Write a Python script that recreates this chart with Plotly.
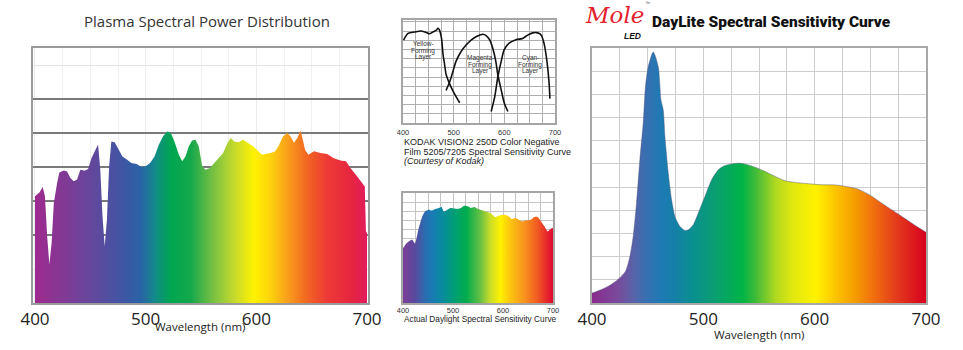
import plotly.graph_objects as go

W, H = 963, 350
def fx(p): return p / W
def fy(p): return 1 - p / H

# ---------------- data ----------------
tick_vals = [400, 500, 600, 700]
tick_text = ["400", "500", "600", "700"]

plasma_nm = [400, 404, 407, 409, 411, 413, 415, 417, 420, 422, 426, 429, 432, 435, 438, 441, 445, 448,
             451, 455, 457, 459, 461, 463, 465, 467, 469, 472, 475, 479, 483, 487, 492, 496, 500, 504,
             508, 512, 516, 520, 523, 526, 530, 533, 536, 539, 542, 545, 548, 551, 554, 558, 562, 566,
             570, 574, 577, 580, 584, 588, 592, 597, 601, 605, 609, 613, 617, 620, 624, 628, 631, 634,
             637, 640, 642, 644, 647, 652, 658, 664, 670, 676, 681, 685, 691, 696, 698, 699, 700]
plasma_val = [3.14, 3.25, 3.41, 3.14, 1.96, 1.13, 1.76, 2.94, 3.53, 3.84, 3.90, 3.87, 3.68, 3.58, 3.63,
              3.92, 3.89, 3.94, 4.26, 4.56, 4.66, 3.92, 2.55, 1.67, 2.45, 4.02, 4.75, 4.73, 4.56, 4.31,
              4.22, 4.12, 4.09, 4.00, 4.02, 4.12, 4.31, 4.66, 4.92, 5.05, 4.98, 4.75, 4.36, 4.17, 4.31,
              4.61, 4.78, 4.80, 4.61, 4.04, 3.92, 3.97, 4.12, 4.26, 4.41, 4.71, 4.85, 4.75, 4.73, 4.80,
              4.71, 4.61, 4.49, 4.36, 4.39, 4.41, 4.46, 4.61, 4.90, 5.00, 4.90, 4.71, 4.85, 5.07, 4.80,
              4.51, 4.36, 4.46, 4.41, 4.38, 4.26, 4.19, 4.17, 3.97, 3.73, 3.53, 3.43, 2.11, 2.06]

yellow_nm = [401, 410, 423, 436, 446, 452, 459, 466, 469, 472, 476, 479, 482, 485, 492, 498, 505, 512]
yellow_val = [9.0, 9.75, 9.9, 10.0, 9.85, 9.7, 9.9, 10.1, 10.3, 10.1, 9.2, 7.45, 6.4, 5.3, 4.25, 3.55, 2.85, 2.2]

magenta_nm = [485, 492, 498, 505, 515, 525, 535, 545, 551, 558, 564, 571, 577, 583, 587, 594, 600, 607]
magenta_val = [3.55, 4.45, 5.5, 6.75, 7.8, 8.5, 9.05, 9.4, 9.55, 9.65, 9.5, 9.05, 8.15, 6.75, 5.3, 3.55, 2.15, 1.25]

cyan_nm = [574, 581, 587, 594, 600, 610, 623, 636, 646, 656, 666, 673, 679, 684, 688, 690]
cyan_val = [1.25, 2.85, 4.95, 6.75, 8.0, 8.7, 9.05, 9.2, 9.55, 9.8, 9.8, 9.55, 8.5, 6.75, 4.6, 2.65]

daylight_nm = [400, 406.8, 413.6, 418.4, 423.9, 430.7, 437.5, 444.3, 451, 458, 464.8, 471.6, 477, 481.8,
               488.6, 495.4, 502.2, 509, 515.9, 522.7, 529.5, 536.3, 543, 550, 560, 570.4, 577, 584, 591,
               597.7, 604.5, 611.3, 618, 625, 631.8, 638.6, 645.4, 655.6, 662.4, 669.3, 676, 683, 689.7,
               695, 700]
daylight_val = [5.97, 6.5, 6.8, 6.9, 6.5, 8.0, 9.27, 10.0, 10.18, 10.1, 10.26, 10.37, 10.48, 10.0, 10.18,
                10.37, 10.3, 10.26, 10.37, 10.62, 10.55, 10.37, 10.48, 10.26, 10.1, 9.9, 9.74, 9.38, 9.52,
                9.63, 9.63, 9.45, 9.16, 9.27, 9.08, 8.9, 9.0, 9.08, 9.38, 9.38, 8.9, 8.35, 7.8, 8.06, 8.17]

mole_nm = [400, 408, 417, 423, 430, 434, 437, 440, 443, 446, 448, 450.5, 455, 459.5, 462, 464, 465.5,
           468.5, 471.5, 474.5, 479, 483.5, 486.5, 491, 495.5, 501.5, 507.5, 513.5, 519.5, 525.5, 531.5,
           537.5, 546.5, 555.5, 564.5, 573.5, 582.5, 595, 607, 619, 631, 640, 649, 658, 667, 676, 685,
           694, 700]
mole_val = [0.43, 0.57, 0.79, 1.0, 1.36, 2.0, 2.87, 4.31, 6.18, 7.76, 9.32, 10.19, 10.83, 10.19, 8.75,
            8.33, 7.18, 5.6, 4.45, 3.73, 3.3, 3.13, 3.16, 3.38, 3.88, 4.6, 5.32, 5.75, 5.93, 6.0, 6.03,
            5.99, 5.86, 5.67, 5.46, 5.27, 5.2, 5.14, 5.1, 5.09, 5.0, 4.89, 4.67, 4.38, 4.09, 3.81, 3.52,
            3.23, 3.05]

# ---------------- colour scales (style) ----------------
CS_PLASMA = [[0.0, "#9e2a8e"], [0.15, "#6b449a"], [0.27, "#3d56a4"], [0.32, "#2a64a6"],
             [0.36, "#128a8a"], [0.41, "#00a651"], [0.47, "#16a84b"], [0.53, "#6fbe44"],
             [0.60, "#c5d92d"], [0.66, "#fff200"], [0.71, "#fdd20e"], [0.76, "#f9a01b"],
             [0.82, "#f26522"], [0.88, "#ed3a36"], [0.95, "#e6263f"], [1.0, "#e21b5c"]]
CS_DAY = [[0.0, "#7b3f98"], [0.08, "#5a4a9e"], [0.147, "#2b6cb0"], [0.193, "#1a7bb3"],
          [0.26, "#0a8aa0"], [0.35, "#00a070"], [0.42, "#00ab4e"], [0.51, "#5fbf45"],
          [0.58, "#c8dc2a"], [0.65, "#fff200"], [0.713, "#fbc60f"], [0.807, "#f7941d"],
          [0.897, "#f15a22"], [0.967, "#e5202e"], [1.0, "#dc0a2c"]]
CS_MOLE = [[0.0, "#8a2a8c"], [0.077, "#7a4a9c"], [0.123, "#5a62a8"], [0.157, "#3a6eb0"],
           [0.207, "#1e7ab4"], [0.247, "#157fa8"], [0.30, "#0a8f90"], [0.37, "#0a9f70"],
           [0.45, "#00b346"], [0.49, "#40bb38"], [0.55, "#b0d820"], [0.60, "#e0e810"],
           [0.67, "#fff200"], [0.73, "#fcc400"], [0.79, "#f59a00"], [0.85, "#ef6a10"],
           [0.91, "#e33c1c"], [1.0, "#d8001e"]]

fig = go.Figure()

fig.add_trace(go.Scatter(x=plasma_nm, y=plasma_val, xaxis="x", yaxis="y", mode="lines",
                         line=dict(width=0), fill="tozeroy",
                         fillgradient=dict(type="horizontal", colorscale=CS_PLASMA),
                         hoverinfo="skip", showlegend=False))
for nm, val in [(yellow_nm, yellow_val), (magenta_nm, magenta_val), (cyan_nm, cyan_val)]:
    fig.add_trace(go.Scatter(x=nm, y=val, xaxis="x2", yaxis="y2", mode="lines",
                             line=dict(color="#111", width=1.6, shape="spline", smoothing=0.8),
                             hoverinfo="skip", showlegend=False))
fig.add_trace(go.Scatter(x=daylight_nm, y=daylight_val, xaxis="x3", yaxis="y3", mode="lines",
                         line=dict(width=0, shape="spline", smoothing=0.6), fill="tozeroy",
                         fillgradient=dict(type="horizontal", colorscale=CS_DAY),
                         hoverinfo="skip", showlegend=False))
fig.add_trace(go.Scatter(x=mole_nm, y=mole_val, xaxis="x4", yaxis="y4", mode="lines",
                         line=dict(width=0.8, color="rgba(70,80,120,0.55)", shape="spline", smoothing=0.7),
                         fill="tozeroy",
                         fillgradient=dict(type="horizontal", colorscale=CS_MOLE),
                         hoverinfo="skip", showlegend=False))

big_tick = dict(family="Open Sans", size=17, color="#222")
small_tick = dict(family="Liberation Sans", size=7.5, color="#333")

def xax(dom, rng, gridc, minorc, linec, linew, font, standoff):
    return dict(domain=dom, range=rng, tickmode="array", tickvals=tick_vals, ticktext=tick_text,
                ticks="", showgrid=True, gridcolor=gridc, gridwidth=1, automargin=False,
                minor=dict(tickmode="linear", tick0=400, dtick=25, showgrid=True, gridcolor=minorc, gridwidth=1),
                showline=True, mirror=True, linecolor=linec, linewidth=linew, zeroline=False,
                tickfont=font, ticklabelstandoff=standoff, fixedrange=True)

def yax(dom, rng, anchor, gridc, linec, linew, **kw):
    d = dict(domain=dom, range=rng, anchor=anchor, showticklabels=False, ticks="", showgrid=True,
             gridcolor=gridc, showline=True, mirror=True, linecolor=linec, linewidth=linew,
             zeroline=False, fixedrange=True, automargin=False)
    d.update(kw)
    return d

layout = dict(
    width=W, height=H, margin=dict(l=0, r=0, t=0, b=0, autoexpand=False),
    paper_bgcolor="white", plot_bgcolor="white", showlegend=False,
    xaxis=xax([fx(33), fx(368)], [398.2, 700.9], "#ececec", "#f0f0f0", "#9a9a9a", 1.5, big_tick, 0),
    yaxis=yax([fy(303), fy(48)], [0, 7.5], "x", "#7a7a7a", "#9a9a9a", 1.5,
              tickmode="array", tickvals=[2, 3, 4, 5, 6], gridwidth=1.5,
              minor=dict(tickmode="array", tickvals=[1, 7], showgrid=True, gridcolor="#e4e4e4", gridwidth=1)),
    xaxis2=xax([fx(403), fx(555)], [400, 700], "#b0b0b0", "#b0b0b0", "#a5a5a5", 2, small_tick, 1),
    yaxis2=yax([fy(123), fy(20)], [0, 11.2], "x2", "#b0b0b0", "#a5a5a5", 2, dtick=1),
    xaxis3=xax([fx(403), fx(553)], [400, 700], "#c4c4c4", "#c4c4c4", "#a5a5a5", 2, small_tick, -1),
    yaxis3=yax([fy(303), fy(193)], [0, 12], "x3", "#c4c4c4", "#a5a5a5", 2, dtick=1),
    xaxis4=xax([fx(592), fx(926)], [400, 700], "#cdcdcd", "#cdcdcd", "#a8a8a8", 2, big_tick, 0),
    yaxis4=yax([fy(303), fy(48)], [0, 11], "x4", "#cdcdcd", "#a8a8a8", 2, dtick=1),
)
layout["xaxis"]["anchor"] = "y"
layout["xaxis2"]["anchor"] = "y2"
layout["xaxis3"]["anchor"] = "y3"
layout["xaxis4"]["anchor"] = "y4"
fig.update_layout(**layout)

def ann(text, x, y, size, color="#222", family="Liberation Sans", xanchor="center", weight="normal", style="normal"):
    fig.add_annotation(text=text, x=fx(x), y=fy(y), xref="paper", yref="paper", showarrow=False,
                       xanchor=xanchor, yanchor="middle",
                       font=dict(size=size, color=color, family=family, weight=weight, style=style))

# titles
ann("Plasma Spectral Power Distribution", 207, 21, 15, "#333", "Open Sans")
ann("DayLite Spectral Sensitivity Curve", 650, 22, 15.5, "#111", "Roboto", xanchor="left", weight=900)
ann("Mole", 614, 15, 23, "#e3222e", "DejaVu Serif", style="italic")
ann("LED", 632, 36, 8.5, "#111", "Liberation Sans", weight="bold", style="italic")
ann("™", 647, 3, 5, "#555")

# axis titles
ann("Wavelength (nm)", 200, 326, 11.5, "#222", "Open Sans")
ann("Wavelength (nm)", 759, 334, 11.5, "#222", "Open Sans")

# kodak layer labels
for x0, y0, lines in [(423, 44, ["Yellow-", "Forming", "Layer"]),
                      (480, 58, ["Magenta-", "Forming", "Layer"]),
                      (530, 58, ["Cyan-", "Forming", "Layer"])]:
    for i, t in enumerate(lines):
        ann(t, x0, y0 + i * 6.5, 6.5, "#333")

# captions
ann("KODAK VISION2 250D Color Negative", 402, 142, 9, "#222", xanchor="left")
ann("Film 5205/7205 Spectral Sensitivity Curve", 402, 152, 9, "#222", xanchor="left")
ann("(Courtesy of Kodak)", 402, 161, 9, "#222", xanchor="left", style="italic")
ann("Actual Daylight Spectral Sensitivity Curve", 402, 319, 8.3, "#222", xanchor="left")

fig.write_html("out.html")
